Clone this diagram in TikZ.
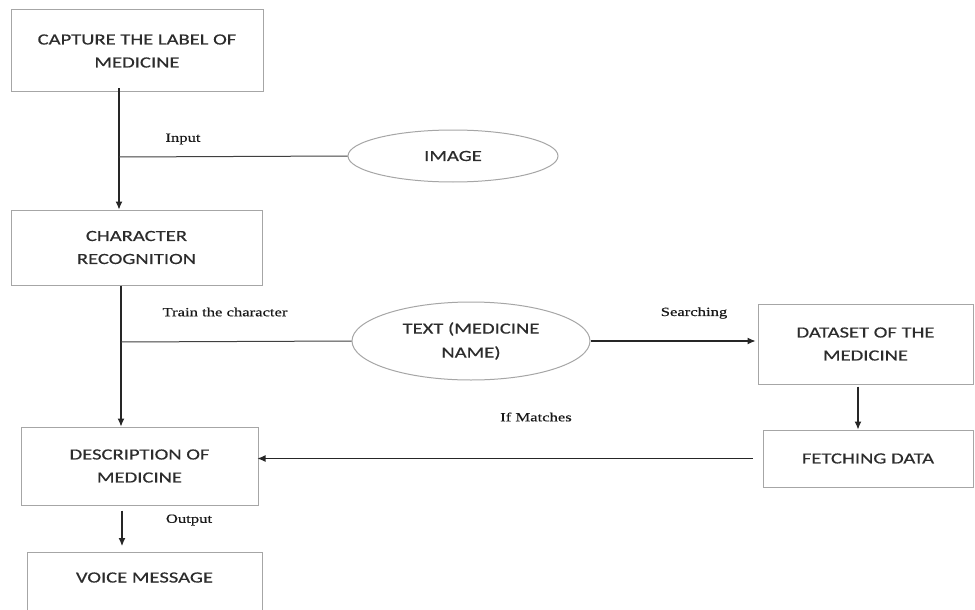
\documentclass[tikz,border=0pt]{standalone}
\usepackage{fontspec}
\newfontfamily\boxfont[FakeStretch=1.33,FakeBold=0.4]{Carlito}
\newfontfamily\labfont[FakeStretch=1.33,FakeBold=0.4]{Liberation Serif}
\usetikzlibrary{shapes.geometric,arrows.meta}
\definecolor{boxline}{HTML}{A6A6A6}
\definecolor{boxtext}{HTML}{2C2C2C}
\tikzset{
 box/.style={draw=boxline, line width=1pt, rectangle, align=center, text=boxtext, font=\boxfont\fontsize{15.5}{23}\selectfont, inner sep=0pt},
 oval/.style={draw=boxline, line width=1pt, ellipse, align=center, text=boxtext, font=\boxfont\fontsize{15.5}{24}\selectfont, inner sep=0pt},
 lab/.style={font=\labfont\fontsize{12.5}{15}\selectfont, text=black!90},
 arr/.style={draw=black!85, line width=1.1pt, -{Latex[length=8pt,width=7pt]}},
 conn/.style={draw=black!75, line width=1pt}
}
\begin{document}
\begin{tikzpicture}[x=1pt,y=-1pt]
\useasboundingbox (0,0) rectangle (975,610);
\clip (0,0) rectangle (975,610);
\fill[white] (0,0) rectangle (975,610);
\node[box, minimum width=252, minimum height=82] (cap) at (137,51) {CAPTURE THE LABEL OF\\MEDICINE};
\node[box, minimum width=251, minimum height=75] (chr) at (136.5,247.5) {CHARACTER\\RECOGNITION};
\node[box, minimum width=237, minimum height=78] (desc) at (139.5,466) {DESCRIPTION OF\\MEDICINE};
\node[box, minimum width=215, minimum height=80] (data) at (865.5,344) {DATASET OF THE\\MEDICINE};
\node[box, minimum width=210, minimum height=57] (fetch) at (868,458.5) {FETCHING DATA};
\node[box, anchor=north, minimum width=235, text height=30pt, text depth=70pt] (voice) at (144.5,552) {VOICE MESSAGE};
\node[oval, minimum width=210, minimum height=52] (img) at (453,156) {IMAGE};
\node[oval, minimum width=238, minimum height=78] (txt) at (471,341) {TEXT (MEDICINE\\NAME)};
\coordinate (j1) at (119,157);
\coordinate (j2) at (121,342);
\coordinate (j3) at (122,520);
\coordinate (j4) at (858,400);
\draw[arr, shorten <=-4pt] (cap.south -| j1) -- (chr.north -| j1);
\draw[conn] (j1) -- (img.west);
\draw[arr] (chr.south -| j2) -- (desc.north -| j2);
\draw[conn] (j2) -- (txt.west);
\draw[arr, shorten >=2pt] (txt.east) -- (data.west |- txt.east);
\draw[arr, shorten <=2pt] (data.south -| j4) -- (fetch.north -| j4);
\draw[arr, shorten >=-1pt] ([xshift=-10pt]fetch.west) -- (desc.east |- fetch.west);
\draw[arr, shorten <=5pt, shorten >=6pt] (desc.south -| j3) -- (voice.north -| j3);
\node[lab] (l1) at (183,139) {Input};
\node[lab] (l2) at (225,312) {Train the character};
\node[lab] (l3) at (694,313) {Searching};
\node[lab] (l4) at (536,417) {If Matches};
\node[lab] (l5) at (189,520) {Output};
\end{tikzpicture}
\end{document}
